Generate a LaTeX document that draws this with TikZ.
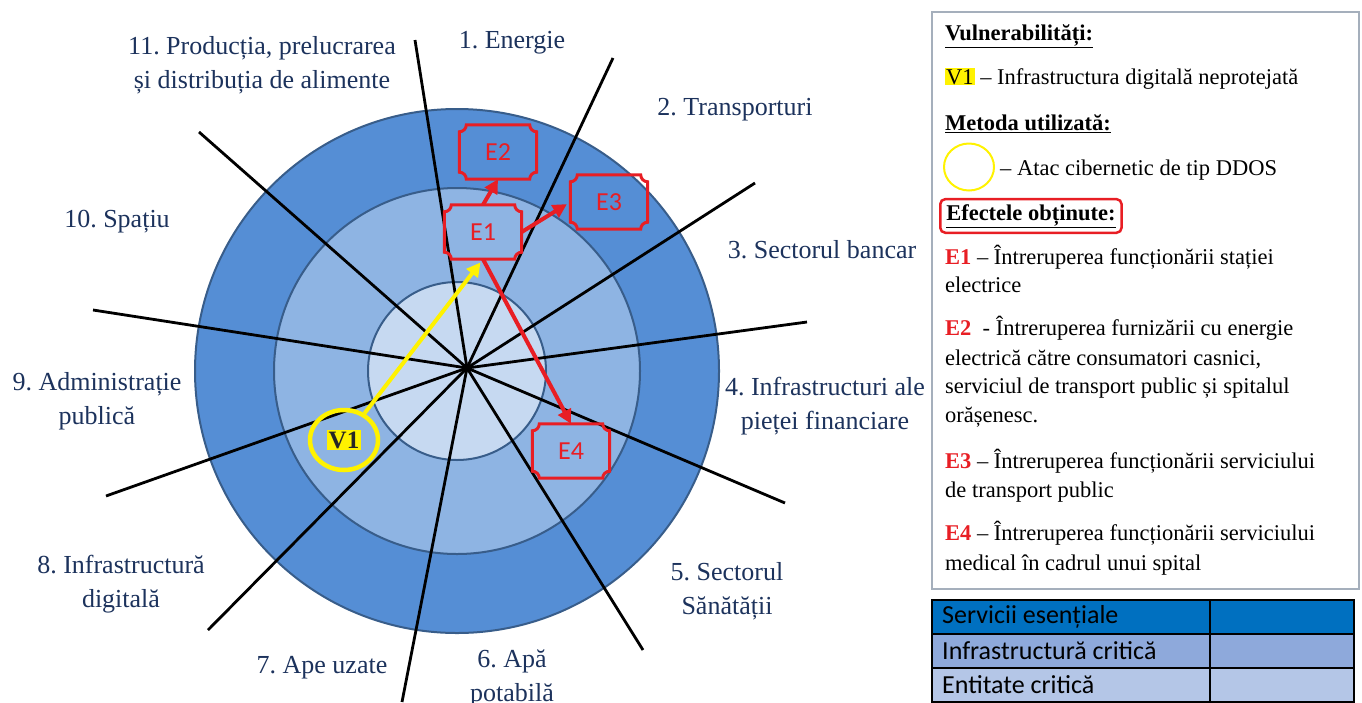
\documentclass[tikz,border=0pt]{standalone}
\usepackage{fontspec}
\setmainfont{Liberation Serif}
\newfontfamily\calibri{Carlito}
\usetikzlibrary{arrows.meta,shapes.geometric}
\frenchspacing

\definecolor{ringout}{RGB}{85,142,213}
\definecolor{ringmid}{RGB}{142,180,227}
\definecolor{ringin}{RGB}{198,217,241}
\definecolor{ringedge}{RGB}{56,93,138}
\definecolor{navy}{RGB}{28,50,92}
\definecolor{effred}{RGB}{232,30,36}
\definecolor{rowtop}{RGB}{0,112,192}
\definecolor{rowmid}{RGB}{142,169,219}
\definecolor{rowlow}{RGB}{180,198,231}
\definecolor{panelgray}{RGB}{165,175,188}

\tikzset{
	ring/.style={draw=ringedge, line width=2pt},
	ray/.style={black, line width=2.8pt},
	sector/.style={font=\fontsize{26}{34}\selectfont, text=navy, align=center, inner sep=0pt},
	effect/.style={font=\calibri\fontsize{26}{28}\selectfont, text=effred, minimum width=77pt, minimum height=54pt, inner sep=0pt},
	plaqueline/.style={draw=effred, line width=3pt},
	redarrow/.style={draw=effred, line width=4pt, -{Triangle[length=14pt,width=14pt]}},
	yelarrow/.style={draw=yellow, line width=4pt, -{Triangle[length=14pt,width=14pt]}, shorten >=4pt},
	vring/.style={ellipse, draw=yellow, line width=4.5pt, minimum width=68pt, minimum height=60pt},
	vtag/.style={fill=yellow, font=\bfseries\fontsize{25}{27}\selectfont, text=black!85, inner sep=1.5pt},
	panel/.style={draw=panelgray, line width=1.5pt},
	legend/.style={anchor=base west, font=\fontsize{22.5}{29}\selectfont, inner sep=0pt},
	cell/.style={draw=black, line width=1.6pt},
	celltext/.style={anchor=west, font=\calibri\fontsize{26}{28}\selectfont, inner sep=0pt}
}

\newcommand{\plaque}[1]{%
	\draw[plaqueline] ([xshift=7pt]#1.north west) -- ([xshift=-7pt]#1.north east)
		arc[start angle=180, end angle=270, radius=7pt] -- ([yshift=7pt]#1.south east)
		arc[start angle=90, end angle=180, radius=7pt] -- ([xshift=7pt]#1.south west)
		arc[start angle=0, end angle=90, radius=7pt] -- ([yshift=-7pt]#1.north west)
		arc[start angle=270, end angle=360, radius=7pt] -- cycle;}
\newcommand{\eff}[1]{\textcolor{effred}{\textbf{#1}}}

\begin{document}
\begin{tikzpicture}[x=1pt, y=-1pt]
	\useasboundingbox (0,0) rectangle (1362,702);
	\coordinate (centre) at (457,371);
	\coordinate (hub) at (467,368);
	\filldraw[ring, fill=ringout] (centre) circle[radius=262pt];
	\filldraw[ring, fill=ringmid] (centre) circle[radius=183pt];
	\filldraw[ring, fill=ringin] (centre) circle[radius=89pt];
	\foreach \p in {(415,40), (613,58), (755,183), (807,322), (785,503), (643,650), (402,702), (208,630), (106,496), (93,310), (199,132)}
		\draw[ray] (hub) -- \p;

	\node[sector] (s1) at (512,43) {1. Energie};
	\node[sector] (s2) at (735,110) {2. Transporturi};
	\node[sector] (s3) at (822,250) {3. Sectorul bancar};
	\node[sector] (s4) at (825,406) {4. Infrastructuri ale\\pieței financiare};
	\node[sector] (s5) at (727,591) {5. Sectorul\\Sănătății};
	\node[sector] (s6) at (512,678) {6. Apă\\potabilă};
	\node[sector] (s7) at (322,668) {7. Ape uzate};
	\node[sector] (s8) at (121,584) {8. Infrastructură\\digitală};
	\node[sector] (s9) at (97,401) {9. Administrație\\publică};
	\node[sector] (s10) at (117,222) {10. Spațiu};
	\node[sector] (s11) at (262,65) {11. Producția, prelucrarea\\și distribuția de alimente};

	\node[effect] (e1) at (483,232) {E1};
	\node[effect] (e2) at (498,152) {E2};
	\node[effect] (e3) at (609,202) {E3};
	\node[effect] (e4) at (571,451) {E4};
	\foreach \e in {e1,e2,e3,e4}
		\plaque{\e};
	\draw[redarrow] (e1.north) -- (e2.south);
	\draw[redarrow, shorten >=4pt] (e1.east) -- (e3.west);
	\draw[redarrow] (e1.south) -- (e4.north);

	\node[vring] (v1ring) at (344,440) {};
	\node[vtag] (v1) at (v1ring) {V1};
	\draw[yelarrow] (v1ring) -- (e1.south);

	\draw[panel] (932,12) rectangle (1359,589);
	\node[legend] (l1) at (945,40) {\underline{\textbf{Vulnerabilități:}}};
	\node[legend] (l2) at (945,84) {{\setlength{\fboxsep}{1pt}\colorbox{yellow}{V1}} – Infrastructura digitală neprotejată};
	\node[legend] (l3) at (945,130) {\underline{\textbf{Metoda utilizată:}}};
	\node[ellipse, draw=yellow, line width=2pt, minimum width=50pt, minimum height=47pt] (ddos) at (969,167) {};
	\node[legend] (l4) at (1000,175) {– Atac cibernetic de tip DDOS};
	\node[legend, draw=effred, line width=2.5pt, rounded corners=5pt, inner xsep=6pt, inner ysep=5pt] (l5) at (939,220) {\underline{\textbf{Efectele obținute:}}};
	\node[legend] (l6) at (945,264) {\eff{E1} – Întreruperea funcționării stației};
	\node[legend] (l7) at (945,292) {electrice};
	\node[legend] (l8) at (945,335) {\eff{E2}\ \ - Întreruperea furnizării cu energie};
	\node[legend] (l9) at (945,365) {electrică către consumatori casnici,};
	\node[legend] (l10) at (945,393) {serviciul de transport public și spitalul};
	\node[legend] (l11) at (945,422) {orășenesc.};
	\node[legend] (l12) at (945,468) {\eff{E3} – Întreruperea funcționării serviciului};
	\node[legend] (l13) at (945,497) {de transport public};
	\node[legend] (l14) at (945,540) {\eff{E4} – Întreruperea funcționării serviciului};
	\node[legend] (l15) at (945,570) {medical în cadrul unui spital};

	\foreach \y/\c/\t in {600/rowtop/Servicii esențiale, 634/rowmid/Infrastructură critică, 668/rowlow/Entitate critică} {
		\filldraw[cell, fill=\c] (932,\y) rectangle (1210,\y+34);
		\filldraw[cell, fill=\c] (1210,\y) rectangle (1354,\y+34);
		\node[celltext] (row\y) at (942,\y+17) {\t};
	}
\end{tikzpicture}
\end{document}
